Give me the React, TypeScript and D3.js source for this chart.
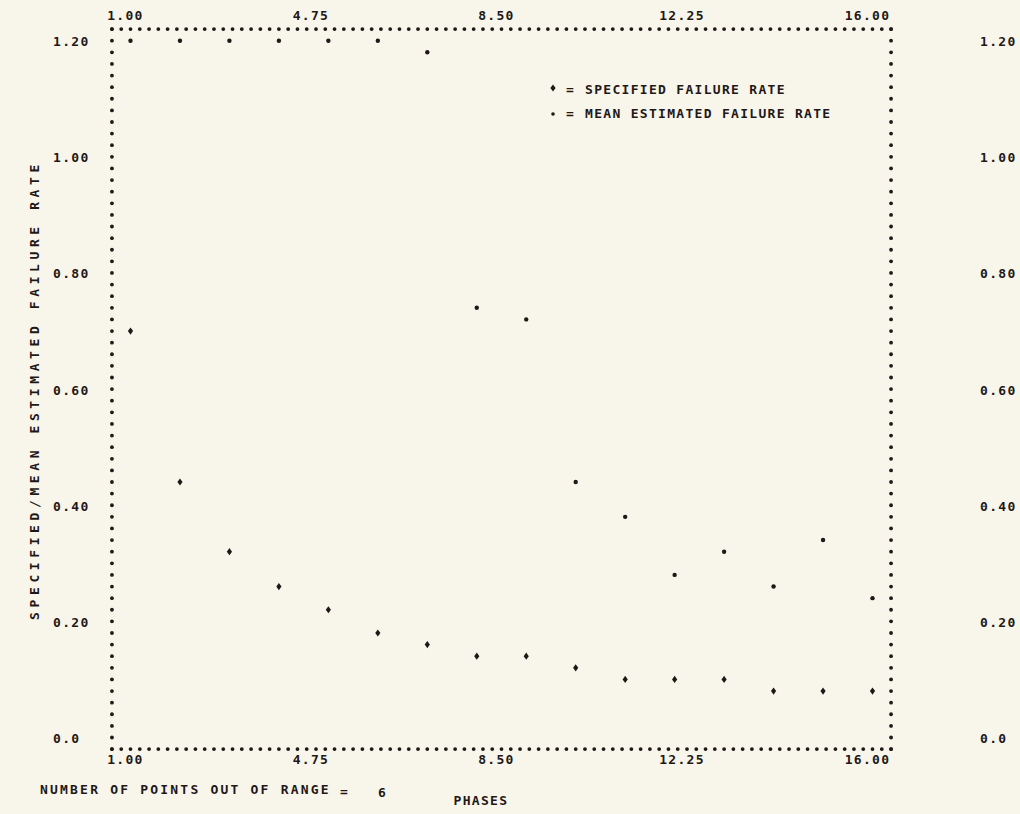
import React from 'react';
import * as d3 from 'd3';

// ---- data ----
const phases = [1, 2, 3, 4, 5, 6, 7, 8, 9, 10, 11, 12, 13, 14, 15, 16];
const specifiedRate = [0.70, 0.44, 0.32, 0.26, 0.22, 0.18, 0.16, 0.14, 0.14, 0.12, 0.10, 0.10, 0.10, 0.08, 0.08, 0.08];
// null = point out of range (plotted on the top row by the printer plot)
const meanEstimatedRate: (number | null)[] = [null, null, null, null, null, null, 1.18, 0.74, 0.72, 0.44, 0.38, 0.28, 0.32, 0.26, 0.34, 0.24];
const xTicks = [1.0, 4.75, 8.5, 12.25, 16.0];
const xTickLabels = ['1.00', '4.75', '8.50', '12.25', '16.00'];
const yTicks = [0.0, 0.2, 0.4, 0.6, 0.8, 1.0, 1.2];
const yTickLabelsLeft = ['0.0', '0.20', '0.40', '0.60', '0.80', '1.00', '1.20'];
const yTickLabelsRight = ['0.0', '0.20', '0.40', '0.60', '0.80', '1.00', '1.20'];
const seriesNames = ['SPECIFIED FAILURE RATE', 'MEAN ESTIMATED FAILURE RATE'];
const yTitle = 'SPECIFIED/MEAN ESTIMATED FAILURE RATE';
const xTitle = 'PHASES';
const outOfRangeLabel = 'NUMBER OF POINTS OUT OF RANGE';

const W = 1020;
const H = 814;
const INK = '#1f1818';
const BG = '#f8f6ea';

const x = d3.scaleLinear().domain([1, 16]).range([130.5, 872.5]);
const y = d3.scaleLinear().domain([0, 1.2]).range([737.5, 40.7]);

const colStep = 15 / 80; // printer column in data units
const rowStep = 0.02; // printer row in data units
const borderX0 = 1 - 2 * colStep;
const borderX1 = 16 + 2 * colStep;
const borderY0 = -rowStep;
const borderY1 = 1.2 + rowStep;
const nCols = Math.round((borderX1 - borderX0) / colStep);
const nRows = Math.round((borderY1 - borderY0) / rowStep);

const font: React.CSSProperties = {
  fontFamily: '"DejaVu Sans Mono", monospace',
  fontWeight: 700,
  fontSize: 13,
  letterSpacing: 1.3,
};

// printer "+" blob: a wide diamond
const blob = 'M0,-3.6L2.6,0L0,3.6L-2.6,0Z';

export default function App() {
  const outOfRange = meanEstimatedRate.filter((v) => v === null).length;
  const hDots = d3.range(nCols + 1).map((i) => borderX0 + i * colStep);
  const vDots = d3.range(nRows + 1).map((i) => borderY0 + i * rowStep);

  return (
    <svg
      width={W}
      height={H}
      style={{ position: 'absolute', left: 0, top: 0, background: BG }}
    >
      <rect x={0} y={0} width={W} height={H} fill={BG} />
      {/* dotted frame */}
      <g fill={INK}>
        {hDots.map((d, i) => (
          <g key={'h' + i}>
            <circle cx={x(d)} cy={y(borderY1)} r={1.9} />
            <circle cx={x(d)} cy={y(borderY0)} r={1.9} />
          </g>
        ))}
        {vDots.map((d, i) => (
          <g key={'v' + i}>
            <circle cx={x(borderX0)} cy={y(d)} r={1.9} />
            <circle cx={x(borderX1)} cy={y(d)} r={1.9} />
          </g>
        ))}
      </g>

      {/* x tick labels, top and bottom */}
      <g style={font} fill={INK} textAnchor="middle">
        {xTicks.map((t, i) => (
          <g key={'xt' + i}>
            <text x={x(t) - 5} y={15} dominantBaseline="central">{xTickLabels[i]}</text>
            <text x={x(t) - 5} y={759} dominantBaseline="central">{xTickLabels[i]}</text>
          </g>
        ))}
      </g>

      {/* y tick labels, left and right */}
      <g style={font} fill={INK}>
        {yTicks.map((t, i) => (
          <g key={'yt' + i}>
            <text x={53} y={y(t) + 1} dominantBaseline="central">{yTickLabelsLeft[i]}</text>
            <text x={980} y={y(t) + 1} dominantBaseline="central">{yTickLabelsRight[i]}</text>
          </g>
        ))}
      </g>

      {/* y title */}
      <text
        transform={`translate(34, 390) rotate(-90)`}
        textAnchor="middle"
        dominantBaseline="central"
        style={{ ...font, letterSpacing: 4.6 }}
        fill={INK}
      >
        {yTitle}
      </text>

      {/* data */}
      <g fill={INK}>
        {phases.map((p, i) => (
          <path
            key={'s' + i}
            d={blob}
            transform={`translate(${x(p)},${y(specifiedRate[i])})`}
          />
        ))}
        {phases.map((p, i) => {
          const v = meanEstimatedRate[i];
          return (
            <circle key={'m' + i} cx={x(p)} cy={y(v === null ? 1.2 : v)} r={2.2} />
          );
        })}
      </g>

      {/* legend */}
      <g fill={INK}>
        <path d={blob} transform={`translate(553,88)`} />
        <text x={566} y={89} dominantBaseline="central" style={font}>=</text>
        <text x={585} y={89} dominantBaseline="central" style={font}>{seriesNames[0]}</text>
        <circle cx={553} cy={114} r={1.8} />
        <text x={566} y={113} dominantBaseline="central" style={font}>=</text>
        <text x={585} y={113} dominantBaseline="central" style={font}>{seriesNames[1]}</text>
      </g>

      {/* bottom notes */}
      <g fill={INK} style={font}>
        <text x={40} y={789} dominantBaseline="central" style={{ ...font, letterSpacing: 2.2 }}>
          {outOfRangeLabel}
        </text>
        <text x={340} y={791} dominantBaseline="central">=</text>
        <text x={378} y={792} dominantBaseline="central">{outOfRange}</text>
        <text x={481} y={800} textAnchor="middle" dominantBaseline="central">{xTitle}</text>
      </g>
    </svg>
  );
}
